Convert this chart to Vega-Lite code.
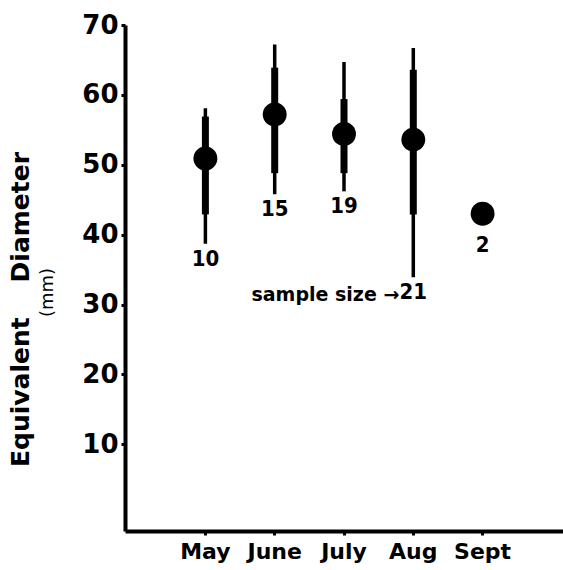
{
  "$schema": "https://vega.github.io/schema/vega-lite/v6.json",
  "width": 438,
  "height": 506,
  "autosize": {"type": "none"},
  "padding": {"left": 125, "top": 25, "right": 0, "bottom": 39},
  "background": "white",
  "config": {"view": {"stroke": null}, "font": "DejaVu Sans"},
  "data": {
    "values": [
      {"month": "May", "mean": 50.9, "min": 38.7, "max": 58.1, "lo": 42.9, "hi": 56.9, "n": "10"},
      {"month": "June", "mean": 57.2, "min": 45.8, "max": 67.2, "lo": 48.8, "hi": 63.9, "n": "15"},
      {"month": "July", "mean": 54.4, "min": 46.2, "max": 64.7, "lo": 48.8, "hi": 59.4, "n": "19"},
      {"month": "Aug", "mean": 53.6, "min": 33.9, "max": 66.7, "lo": 42.9, "hi": 63.6, "n": "21"},
      {"month": "Sept", "mean": 43.0, "min": null, "max": null, "lo": null, "hi": null, "n": "2"}
    ]
  },
  "encoding": {
    "x": {
      "field": "month",
      "type": "ordinal",
      "sort": null,
      "scale": {"type": "band", "paddingInner": 0.5, "paddingOuter": 0.91},
      "axis": {
        "title": null,
        "labelAngle": 0,
        "labelFontSize": 22,
        "labelFontWeight": "bold",
        "labelColor": "black",
        "labelPadding": 6,
        "tickSize": 4,
        "tickWidth": 3,
        "tickColor": "black",
        "domainColor": "black",
        "domainWidth": 4,
        "grid": false
      }
    }
  },
  "resolve": {"axis": {"y": "independent"}},
  "layer": [
    {
      "mark": {"type": "rule", "strokeWidth": 3.5, "color": "black"},
      "encoding": {
        "y": {
          "field": "min",
          "type": "quantitative",
          "scale": {"domain": [-2.4, 70], "nice": false, "zero": false},
          "axis": {
            "orient": "left",
            "values": [10, 20, 30, 40, 50, 60, 70],
            "grid": false,
            "labelFontSize": 26,
            "labelFontWeight": "bold",
            "labelColor": "black",
            "labelPadding": 3,
            "tickSize": 4,
            "tickWidth": 3,
            "tickColor": "black",
            "domainColor": "black",
            "domainWidth": 4,
            "title": "(mm)",
            "titleFontSize": 18,
            "titleFontWeight": "normal",
            "titleColor": "black",
            "titleAngle": -90,
            "titleX": -69,
            "titleY": 267
          }
        },
        "y2": {"field": "max"}
      }
    },
    {
      "mark": {"type": "rule", "strokeWidth": 7, "color": "black"},
      "encoding": {
        "y": {"field": "lo", "type": "quantitative", "axis": null},
        "y2": {"field": "hi"}
      }
    },
    {
      "mark": {"type": "circle", "size": 570, "opacity": 1, "color": "black"},
      "encoding": {
        "y": {
          "field": "mean",
          "type": "quantitative",
          "axis": {
            "orient": "left",
            "labels": false,
            "ticks": false,
            "domain": false,
            "grid": false,
            "title": "Equivalent\u00a0\u00a0\u00a0\u00a0Diameter",
            "titleFontSize": 25,
            "titleFontWeight": "bold",
            "titleColor": "black",
            "titleAngle": -90,
            "titleX": -92,
            "titleY": 284
          }
        }
      }
    },
    {
      "transform": [{"filter": "isValid(datum.min)"}],
      "mark": {"type": "text", "baseline": "top", "dy": 5, "fontSize": 22, "fontWeight": "bold", "font": "'DejaVu Sans Condensed', 'Roboto Condensed', 'Liberation Sans Narrow', sans-serif", "color": "black"},
      "encoding": {
        "y": {"field": "min", "type": "quantitative", "axis": null},
        "text": {"field": "n"}
      }
    },
    {
      "transform": [{"filter": "!isValid(datum.min)"}],
      "mark": {"type": "text", "baseline": "top", "dy": 21, "fontSize": 22, "fontWeight": "bold", "font": "'DejaVu Sans Condensed', 'Roboto Condensed', 'Liberation Sans Narrow', sans-serif", "color": "black"},
      "encoding": {
        "y": {"field": "mean", "type": "quantitative", "axis": null},
        "text": {"field": "n"}
      }
    },
    {
      "transform": [{"filter": "datum.month === 'Aug'"}],
      "mark": {"type": "text", "baseline": "top", "align": "right", "dx": -14, "dy": 9, "fontSize": 19, "fontWeight": "bold", "color": "black", "text": "sample size →"},
      "encoding": {
        "y": {"field": "min", "type": "quantitative", "axis": null}
      }
    }
  ]
}
